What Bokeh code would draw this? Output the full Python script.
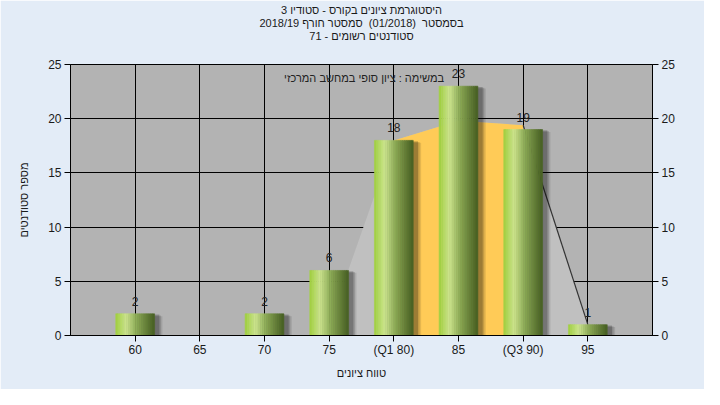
from bokeh.plotting import figure
from bokeh.models import FixedTicker, LinearAxis, Label, Range1d, Title
from bokeh.core.properties import value
from bokeh.embed import file_html
from bokeh.resources import INLINE

# ---- data ----
categories = [60, 65, 70, 75, 80, 85, 90, 95]
counts = [2, 0, 2, 6, 18, 23, 19, 1]
tick_labels = ["60", "65", "70", "75", "(Q1 80)", "85", "(Q3 90)", "95"]
curve_x = [75, 80, 85, 90, 95]
curve_y = [1, 18, 19.8, 19.4, 1]
q1, q3 = 80, 90
y_ticks = [0, 5, 10, 15, 20, 25]

title_lines = [
    "היסטוגרמת ציונים בקורס - סטודיו 3",
    "בסמסטר \u00a0(01/2018) \u00a0סמסטר חורף 2018/19",
    "סטודנטים רשומים - 71",
]
task_text = "במשימה : ציון סופי במחשב המרכזי"
x_title = "טווח ציונים"
y_title = "מספר סטודנטים"

RLE, PDF = "\u202b", "\u202c"
def rtl(s):
    return RLE + s + PDF

FONT = "Liberation Sans"
HEB_SIZE = "11px"

p = figure(width=704, height=389, x_range=Range1d(55, 100), y_range=Range1d(0, 25),
           output_backend="svg", toolbar_location=None,
           min_border_left=70, min_border_right=52, min_border_top=64, min_border_bottom=54)
p.border_fill_color = "#e3ecf7"
p.background_fill_color = "#b3b3b3"
p.outline_line_color = "black"

# titles: p.title is outermost, later-added titles stack from the frame outward
def style_title(t, standoff):
    t.align = "center"
    t.standoff = standoff
    t.text_font = FONT
    t.text_font_size = HEB_SIZE
    t.text_font_style = "normal"
    t.text_color = "#1a1a1a"

p.title.text = rtl(title_lines[0])
style_title(p.title, -1)
spacer = Title(text="\u00a0")
style_title(spacer, 9)
p.add_layout(spacer, "above")
t3 = Title(text=rtl(title_lines[2]))
style_title(t3, -1)
p.add_layout(t3, "above")
t2 = Title(text=rtl(title_lines[1]))
style_title(t2, -1)
p.add_layout(t2, "above")

# axes
for ax in [p.xaxis[0], p.yaxis[0]]:
    ax.axis_line_color = "black"
    ax.major_tick_line_color = "black"
    ax.major_tick_out = 6
    ax.major_tick_in = 0
    ax.minor_tick_line_color = None
    ax.major_label_text_font = FONT
    ax.major_label_text_font_size = "12px"
    ax.major_label_text_color = "#1a1a1a"
    ax.axis_label_text_font = FONT
    ax.axis_label_text_font_size = HEB_SIZE
    ax.axis_label_text_font_style = "normal"
    ax.axis_label_text_color = "#1a1a1a"

p.xaxis.ticker = FixedTicker(ticks=categories)
p.xaxis.major_label_overrides = {c: t for c, t in zip(categories, tick_labels)}
p.xaxis.major_label_standoff = 1
p.xaxis.axis_label = rtl(x_title)
p.xaxis.axis_label_standoff = 7

p.yaxis.ticker = FixedTicker(ticks=y_ticks)
p.yaxis.major_label_standoff = 3
p.yaxis.axis_label = rtl(y_title)
p.yaxis.axis_label_standoff = 15

rax = LinearAxis(ticker=FixedTicker(ticks=y_ticks))
rax.axis_line_color = "black"
rax.major_tick_line_color = "black"
rax.major_tick_out = 6
rax.major_tick_in = 0
rax.minor_tick_line_color = None
rax.major_label_text_font = FONT
rax.major_label_text_font_size = "12px"
rax.major_label_text_color = "#1a1a1a"
rax.major_label_standoff = 3
p.add_layout(rax, "right")

p.xgrid.ticker = FixedTicker(ticks=categories)
p.ygrid.ticker = FixedTicker(ticks=y_ticks)
for g in [p.xgrid[0], p.ygrid[0]]:
    g.grid_line_color = "black"
    g.grid_line_width = 1

# area (frequency curve) and IQR band
p.varea(x=curve_x, y1=0, y2=curve_y, fill_color="#c0c0c0")
band_x = [x for x in curve_x if q1 <= x <= q3]
band_y = [y for x, y in zip(curve_x, curve_y) if q1 <= x <= q3]
p.varea(x=band_x, y1=0, y2=band_y, fill_color="#ffcb57")
p.line(x=curve_x[-2:], y=curve_y[-2:], line_color="#333333", line_width=1.2)

# bars with shadow and gradient
bw = 3.0
bx = [c for c, n in zip(categories, counts) if n > 0]
by = [n for n in counts if n > 0]

for k, a in enumerate([0.10, 0.14, 0.2]):
    off = 0.12 * (3 - k)
    p.quad(left=[x - bw / 2 + off + 0.2 for x in bx], right=[x + bw / 2 + off + 0.25 for x in bx],
           bottom=0, top=[y - off * 0.6 for y in by], fill_color="black", fill_alpha=a, line_color=None)

stops = [(0.0, (158, 206, 60)), (0.27, (204, 229, 142)), (0.55, (138, 168, 84)), (1.0, (70, 94, 34))]
def grad(t):
    for (t0, c0), (t1, c1) in zip(stops[:-1], stops[1:]):
        if t <= t1:
            f = (t - t0) / (t1 - t0)
            return "#%02x%02x%02x" % tuple(int(round(c0[i] + f * (c1[i] - c0[i]))) for i in range(3))
    return "#%02x%02x%02x" % stops[-1][1]

nsl = 18
L, R, T, C = [], [], [], []
for x, y in zip(bx, by):
    for k in range(nsl):
        l = x - bw / 2 + k * bw / nsl
        L.append(l)
        R.append(l + bw / nsl)
        T.append(y)
        C.append(grad((k + 0.5) / nsl))
p.quad(left=L, right=R, bottom=0, top=T, fill_color=C, line_color=C, line_width=0.6)

# value labels
p.text(x=bx, y=by, text=[str(v) for v in by], text_align="center", text_baseline="bottom",
       y_offset=-8, text_font=value(FONT), text_font_size="12px", text_color="#222222")

# task text inside plot
p.add_layout(Label(x=77.7, y=23.8, text=rtl(task_text), text_align="center", text_baseline="middle",
                   text_font=FONT, text_font_size=HEB_SIZE, text_color="#222222"))

open("out.html", "w").write(file_html(p, INLINE))
